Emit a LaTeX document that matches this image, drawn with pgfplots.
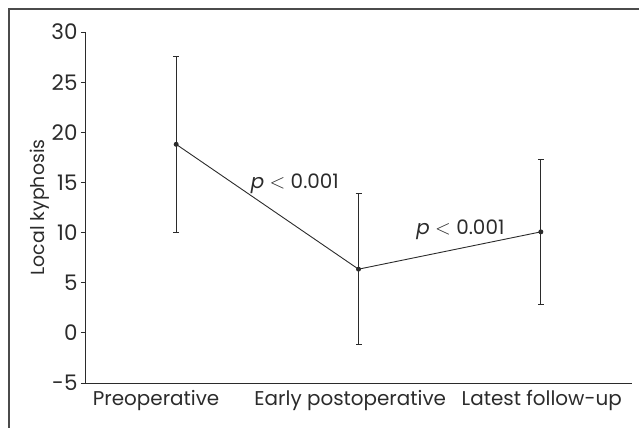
\documentclass[border=0pt]{standalone}
\usepackage{pgfplots}
\pgfplotsset{compat=1.18}
\usepackage{fontspec}
\setmainfont{Poppins}
\definecolor{ink}{HTML}{2B2B2B}

\begin{document}
\begin{tikzpicture}
\useasboundingbox (-85bp,-45bp) rectangle (554bp,383bp);
% outer frame (only top and left edge are visible)
\draw[ink!85, line width=1.5bp] (-76bp,-46bp) -- (-76bp,374bp) -- (555bp,374bp);
\begin{axis}[
    at={(0,0)}, anchor=south west,
    scale only axis,
    width=547bp, height=351bp,
    axis lines=left,
    axis line style={-, ink, line width=0.9bp},
    xmin=-0.5, xmax=2.5,
    ymin=-5, ymax=30,
    ytick={-5,0,5,10,15,20,25,30},
    xtick={-0.11,0.955,2.005},
    xticklabels={Preoperative, Early postoperative, Latest follow-up},
    x tick style={draw=none},
    y tick style={ink, line width=0.8bp},
    tick align=outside,
    major tick length=4bp,
    xticklabel style={font=\fontsize{20}{24}\selectfont, text=ink},
    yticklabel style={font=\fontsize{21.5}{24}\selectfont, text=ink},
    /pgf/number format/assume math mode=true,
    ylabel={Local kyphosis},
    ylabel style={font=\fontsize{19}{22}\selectfont, text=ink,
        at={(axis description cs:-0.083,0.5)}, anchor=center},
    clip=false,
]

\addplot[
    ink, line width=0.9bp,
    mark=*, mark size=2bp, mark options={fill=ink},
    error bars/.cd,
    y dir=both, y explicit,
    error bar style={line width=0.9bp, ink},
    error mark options={rotate=90, mark size=3bp, line width=0.9bp, ink}
]
coordinates {
    (0, 18.8)  +- (0, 8.8)
    (1, 6.35)  +- (0, 7.55)
    (2, 10.07) +- (0, 7.27)
};

\node[font=\fontsize{20}{24}\selectfont, text=ink] at (axis cs:0.651,14.86) {{\itshape p} $<$ 0.001};
\node[font=\fontsize{20}{24}\selectfont, text=ink] at (axis cs:1.559,10.27) {{\itshape p} $<$ 0.001};

\end{axis}
\end{tikzpicture}
\end{document}
